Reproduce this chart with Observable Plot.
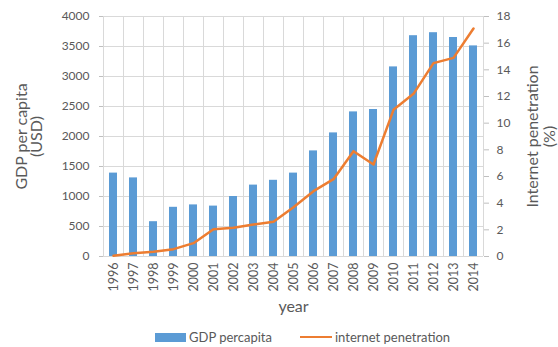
<!DOCTYPE html>
<html>
<head>
<meta charset="utf-8">
<script src="https://cdn.jsdelivr.net/npm/d3@7"></script>
<script src="https://cdn.jsdelivr.net/npm/@observablehq/plot@0.6"></script>
<style>
  body { margin: 0; background: #fff; font-family: Lato, "Open Sans", sans-serif; }
  #chart svg { display: block; }
  #chart svg g[aria-label="text"] text { text-anchor: middle; }
  #legend { margin-top: 10px; height: 18px; display: flex; align-items: center; padding-left: 155px;
            font-size: 13px; color: #595959; white-space: nowrap; }
  #legend .bar { display: inline-block; width: 31px; height: 9px; background: #5b9bd5; margin-right: 3px; }
  #legend .line { display: inline-block; width: 32px; height: 2.5px; background: #ed7d31; margin-left: 28px; margin-right: 3px; }
</style>
</head>
<body>
<div id="chart"></div>
<div id="legend"><span class="bar"></span><span>GDP percapita</span><span class="line"></span><span>internet penetration</span></div>
<script>
// GDP per capita (USD) and internet penetration (%) by year
const years = ["1996","1997","1998","1999","2000","2001","2002","2003","2004","2005",
               "2006","2007","2008","2009","2010","2011","2012","2013","2014"];
const gdpPerCapita = [1390, 1310, 580, 820, 860, 840, 1000, 1190, 1270, 1390,
                      1760, 2060, 2410, 2450, 3160, 3680, 3730, 3650, 3510];
const internetPenetration = [0.05, 0.25, 0.35, 0.55, 1.0, 2.05, 2.15, 2.4, 2.6, 3.7,
                             4.9, 5.8, 7.9, 6.9, 11.0, 12.2, 14.5, 14.9, 17.1];
const gdpTicks = d3.range(0, 4001, 500);
const penetrationTicks = d3.range(0, 19, 2);

const data = years.map((year, i) => ({year, gdp: gdpPerCapita[i], pen: internetPenetration[i]}));

// secondary axis: map percentage onto the GDP scale's domain
const y2 = d3.scaleLinear([0, 18], [0, 4000]);

const textColor = "#595959";
const gridColor = "#d9d9d9";
const titleStyle = {frameAnchor: "middle", text: d => d, rotate: -90, textAnchor: "middle",
                    lineAnchor: "middle", fontSize: 16, fill: textColor};

const chart = Plot.plot({
  width: 558,
  height: 318,
  marginLeft: 103,
  marginRight: 75,
  marginTop: 16,
  marginBottom: 62,
  style: {fontFamily: "Lato, 'Open Sans', sans-serif", fontSize: "12px", color: textColor, background: "#fff"},
  x: {type: "band", domain: years, paddingInner: 0.62, paddingOuter: 0.31},
  y: {domain: [0, 4000]},
  marks: [
    Plot.gridY(gdpTicks, {stroke: gridColor, strokeOpacity: 1}),
    Plot.ruleX(years, {dx: -10, stroke: gridColor}),
    Plot.ruleX(years.slice(-1), {dx: 10, stroke: gridColor}),
    Plot.barY(data, {x: "year", y: "gdp", fill: "#5b9bd5"}),
    Plot.lineY(data, {x: "year", y: d => y2(d.pen), stroke: "#ed7d31", strokeWidth: 2.5}),
    Plot.axisY(gdpTicks, {anchor: "left", tickSize: 4, tickPadding: 10, label: null, stroke: "#bfbfbf",
                          fill: textColor, tickFormat: d3.format("d")}),
    Plot.axisY(penetrationTicks, {anchor: "right", y: y2, tickSize: 5, tickPadding: 8, label: null,
                                  stroke: "#bfbfbf", fill: textColor, tickFormat: d3.format("d")}),
    Plot.axisX({tickRotate: -90, tickSize: 0, tickPadding: 6, label: null, fill: textColor, fontSize: 12.5}),
    // axis titles, one line each, positioned relative to the centre of the frame
    Plot.text(["GDP per capita"], {...titleStyle, dx: -272}),
    Plot.text(["(USD)"], {...titleStyle, dx: -257}),
    Plot.text(["Internet penetration"], {...titleStyle, dx: 239}),
    Plot.text(["(%)"], {...titleStyle, dx: 256}),
    Plot.text(["year"], {frameAnchor: "bottom", text: d => d, dy: 55, fontSize: 16, fill: textColor})
  ]
});
document.getElementById("chart").append(chart);
</script>
</body>
</html>
